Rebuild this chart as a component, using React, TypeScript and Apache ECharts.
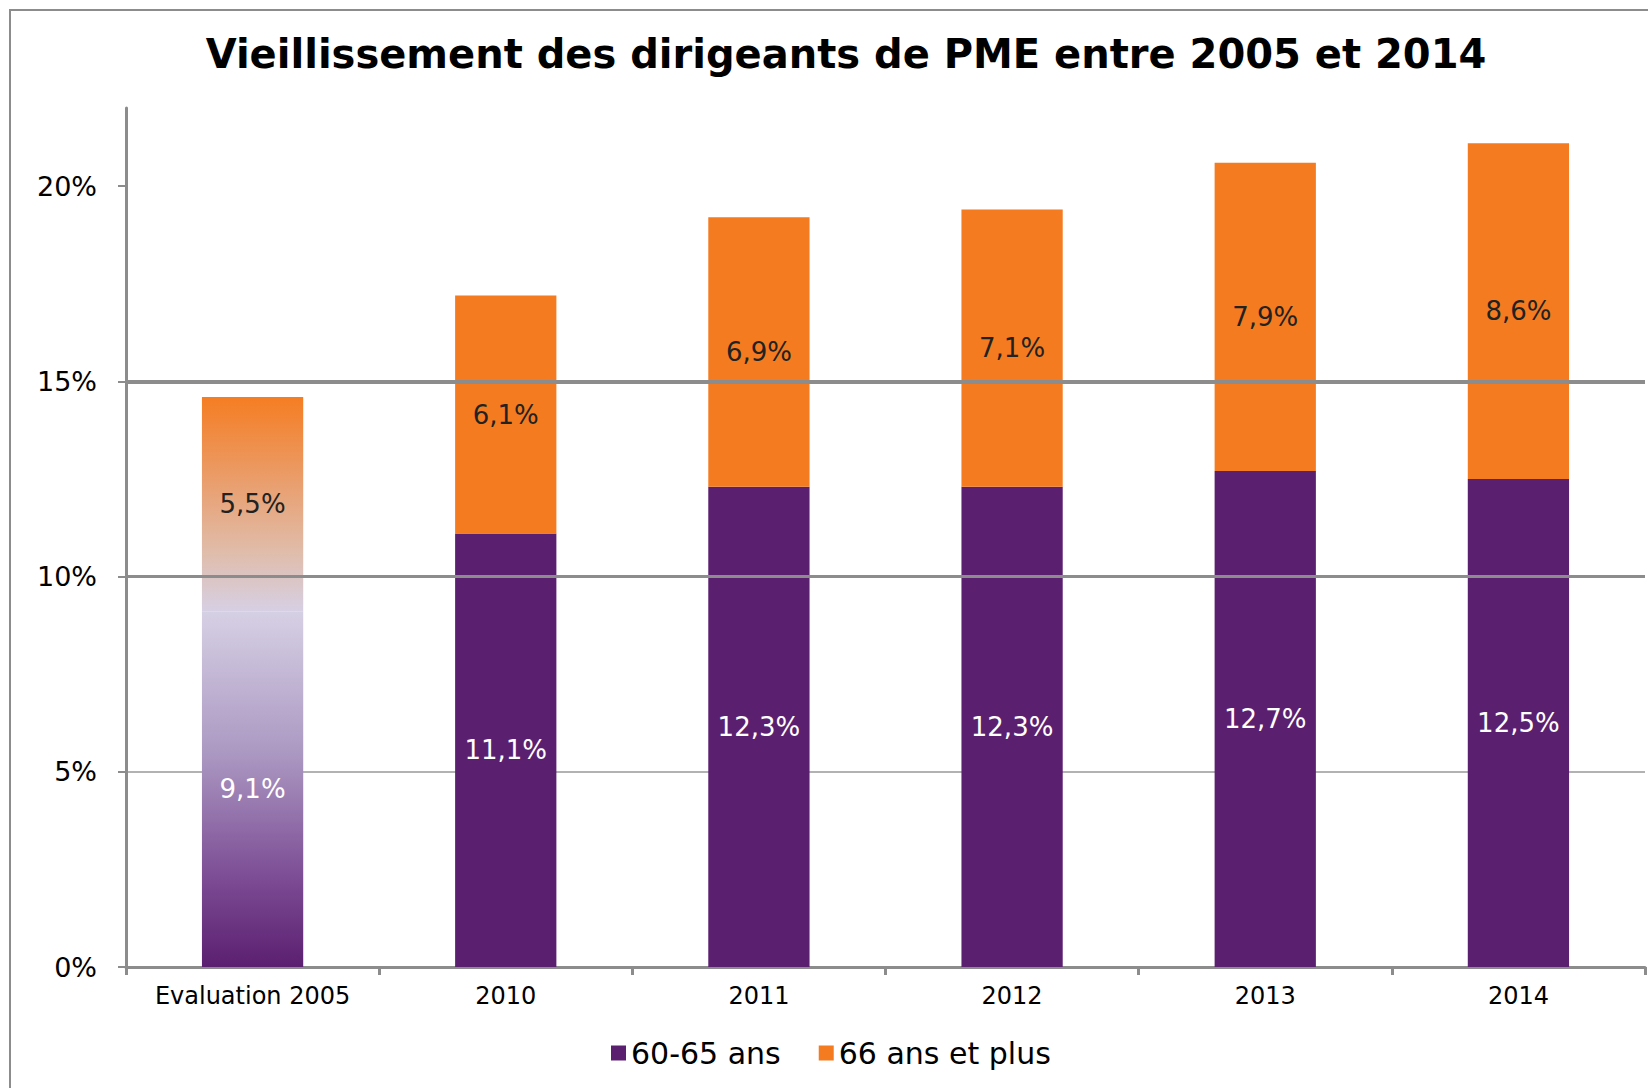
import React, { useEffect, useRef } from "react";
import * as echarts from "echarts";

const categories = ["Evaluation 2005", "2010", "2011", "2012", "2013", "2014"];
const age6065 = [9.1, 11.1, 12.3, 12.3, 12.7, 12.5];
const age66plus = [5.5, 6.1, 6.9, 7.1, 7.9, 8.6];
const yTicks = [0, 5, 10, 15, 20];
const seriesNames = ["60-65 ans", "66 ans et plus"];
const titleText = "Vieillissement des dirigeants de PME entre 2005 et 2014";

const PURPLE = "#5b1f70";
const ORANGE = "#f47b20";
const FONT = "DejaVu Sans";

const fmt = (v: number) => `${v.toFixed(1).replace(".", ",")}%`;

export default function App() {
  const ref = useRef<HTMLDivElement>(null);
  useEffect(() => {
    document.body.style.margin = "0";
    if (!ref.current) return;
    const chart = echarts.init(ref.current, null, { renderer: "svg" });

    const purpleGrad = new echarts.graphic.LinearGradient(0, 0, 0, 1, [
      { offset: 0, color: "#d6d0e4" },
      { offset: 0.4, color: "#ab98c2" },
      { offset: 0.75, color: "#7c4c94" },
      { offset: 1, color: "#5b1f70" },
    ]);
    const orangeGrad = new echarts.graphic.LinearGradient(0, 0, 0, 1, [
      { offset: 0, color: "#f57d22" },
      { offset: 0.35, color: "#eb9a64" },
      { offset: 0.72, color: "#e0bcaa" },
      { offset: 1, color: "#d6d0e4" },
    ]);

    const purpleData = age6065.map((v, i) =>
      i === 0 ? { value: v, itemStyle: { color: purpleGrad } } : v
    );
    const orangeData = age66plus.map((v, i) =>
      i === 0 ? { value: v, itemStyle: { color: orangeGrad } } : v
    );

    chart.setOption({
      animation: false,
      backgroundColor: "#ffffff",
      title: {
        text: titleText,
        left: 841,
        textAlign: "center",
        top: 29,
        textStyle: { fontFamily: FONT, fontWeight: "bold", fontSize: 40, color: "#000" },
      },
      graphic: [
        {
          type: "rect",
          shape: { x: 10, y: 10, width: 1700, height: 1200 },
          style: { fill: "none", stroke: "#8c8c8c", lineWidth: 2 },
          silent: true,
        },
      ],
      legend: {
        data: seriesNames,
        left: 606,
        top: 1033,
        icon: "rect",
        itemWidth: 15,
        itemHeight: 15,
        itemGap: 38,
        textStyle: { fontFamily: FONT, fontSize: 30, color: "#000" },
      },
      grid: { left: 126, right: 3, top: 108, bottom: 121, containLabel: false },
      xAxis: {
        type: "category",
        data: categories,
        axisLine: { lineStyle: { color: "#8c8c8c", width: 3 } },
        axisTick: { show: true, interval: 0, length: 8, lineStyle: { color: "#8c8c8c", width: 3 } },
        axisLabel: { interval: 0, fontFamily: FONT, fontSize: 24, color: "#000", margin: 17 },
      },
      yAxis: {
        type: "value",
        min: 0,
        max: 22,
        interval: 5,
        axisLine: { show: true, lineStyle: { color: "#8c8c8c", width: 3 } },
        axisTick: {
          show: true,
          length: 8,
          customValues: yTicks,
          lineStyle: { color: "#8c8c8c", width: 2 },
        },
        axisLabel: {
          customValues: yTicks,
          fontFamily: FONT,
          fontSize: 27,
          color: "#000",
          margin: 29,
          formatter: (v: number) => (yTicks.includes(v) ? `${v}%` : ""),
        },
        splitLine: {
          show: true,
          showMaxLine: false,
          lineStyle: { color: "#999999", width: 1.5 },
        },
      },
      series: [
        {
          name: "grid-emphasis",
          type: "line",
          data: [],
          z: 1,
          silent: true,
          markLine: {
            silent: true,
            symbol: "none",
            label: { show: false },
            data: [
              { yAxis: 15, lineStyle: { color: "#8c8c8c", width: 4, type: "solid" } },
              { yAxis: 10, lineStyle: { color: "#8c8c8c", width: 3, type: "solid" } },
            ],
          },
        },
        {
          name: seriesNames[0],
          type: "bar",
          stack: "total",
          barWidth: "40%",
          z: 2,
          data: purpleData,
          itemStyle: { color: PURPLE },
          label: {
            show: true,
            position: "inside",
            color: "#ffffff",
            fontFamily: FONT,
            fontSize: 26,
            formatter: (p: any) => fmt(p.value),
          },
        },
        {
          name: seriesNames[1],
          type: "bar",
          stack: "total",
          barWidth: "40%",
          z: 2,
          data: orangeData,
          itemStyle: { color: ORANGE },
          label: {
            show: true,
            position: "inside",
            color: "#222222",
            fontFamily: FONT,
            fontSize: 26,
            formatter: (p: any) => fmt(p.value),
          },
        },
      ],
    });
    return () => chart.dispose();
  }, []);
  return <div ref={ref} style={{ width: 1648, height: 1088 }} />;
}
